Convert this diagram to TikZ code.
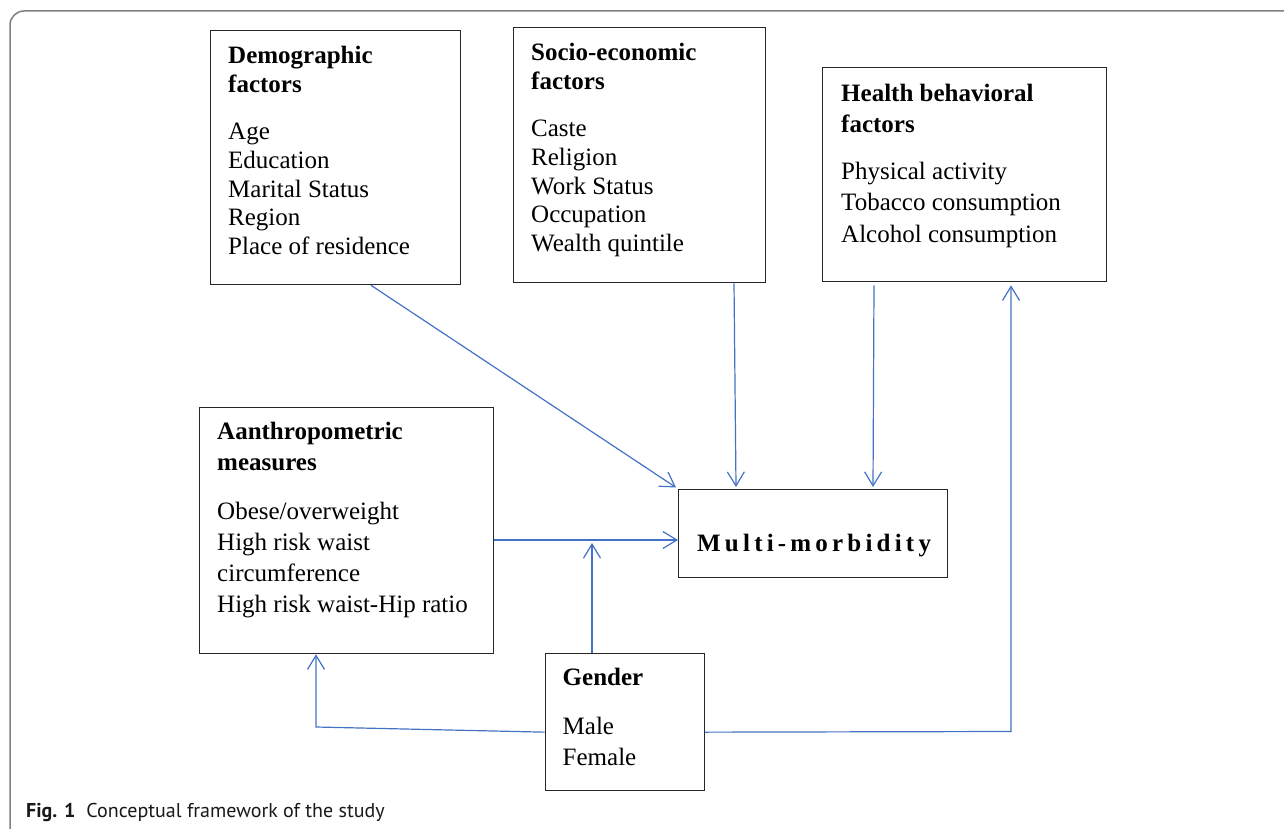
\documentclass[tikz,border=0pt]{standalone}
\usepackage{fontspec}
\setmainfont{Liberation Serif}
\newfontfamily\capfont{PT Sans}
\usetikzlibrary{arrows.meta,calc}
\definecolor{arrowblue}{HTML}{4472C4}
\definecolor{framegray}{HTML}{808080}
\newcommand{\lsp}{\kern4.2pt}
\begin{document}
\begin{tikzpicture}[x=1pt,y=-1pt,
  box/.style={draw=black!85, line width=1.3pt, inner sep=0pt, anchor=north west},
  txt/.style={anchor=base west, inner sep=0pt, font=\fontsize{25}{29}\selectfont},
  head/.style={anchor=base west, inner sep=0pt, font=\fontsize{25}{29}\selectfont\bfseries},
  link/.style={draw=arrowblue, line width=1.2pt, -{Straight Barb[length=14pt,width=17pt,line width=1.2pt]}},
  plainlink/.style={draw=arrowblue, line width=1.2pt}]
\useasboundingbox (0,0) rectangle (1284,829);
\fill[white] (0,0) rectangle (1284,829);
\draw[framegray, line width=1.5pt, rounded corners=14pt] (10,840) -- (10,11) -- (1300,11);

% boxes
\node[box, minimum width=250pt, minimum height=254pt] (demo) at (210,30) {};
\node[box, minimum width=252pt, minimum height=255pt] (socio) at (513,27) {};
\node[box, minimum width=284pt, minimum height=214pt] (health) at (822,67) {};
\node[box, minimum width=294pt, minimum height=246pt] (anthro) at (199,407) {};
\node[box, minimum width=269pt, minimum height=88pt] (multi) at (678,489) {};
\node[box, minimum width=159pt, minimum height=137pt] (gender) at (544.5,652.5) {};

% demographic text
\node[head] (d1) at (228,63.5) {Demographic};
\node[head] (d2) at (228,92.5) {factors};
\node[txt] (d3) at (228,139.5) {Age};
\node[txt] (d4) at (228,168.25) {Education};
\node[txt] (d5) at (228,197) {Marital Status};
\node[txt] (d6) at (228,225.75) {Region};
\node[txt] (d7) at (228,254.5) {Place of residence};

% socio-economic text
\node[head] (s1) at (531,60.5) {Socio-economic};
\node[head] (s2) at (531,89.5) {factors};
\node[txt] (s3) at (531,136.5) {Caste};
\node[txt] (s4) at (531,165.25) {Religion};
\node[txt] (s5) at (531,194) {Work Status};
\node[txt] (s6) at (531,222.75) {Occupation};
\node[txt] (s7) at (531,251.5) {Wealth quintile};

% health text
\node[head] (h1) at (841,102) {Health behavioral};
\node[head] (h2) at (841,133) {factors};
\node[txt] (h3) at (841,180) {Physical activity};
\node[txt] (h4) at (841,211) {Tobacco consumption};
\node[txt] (h5) at (841,242) {Alcohol consumption};

% anthropometric text
\node[head] (a1) at (217,439) {Aanthropometric};
\node[head] (a2) at (217,470) {measures};
\node[txt] (a3) at (217,519.5) {Obese/overweight};
\node[txt] (a4) at (217,550.5) {High risk waist};
\node[txt] (a5) at (217,581.5) {circumference};
\node[txt] (a6) at (217,612.5) {High risk waist-Hip ratio};

% gender text
\node[head] (g1) at (562.5,685.5) {Gender};
\node[txt] (g2) at (562.5,734) {Male};
\node[txt] (g3) at (562.5,765) {Female};

% multi-morbidity text
\node[head] (mtext) at (697,551) {M\lsp u\lsp l\lsp t\lsp i\lsp -\lsp m\lsp o\lsp r\lsp b\lsp i\lsp d\lsp i\lsp t\lsp y};

% connectors
\coordinate (join) at (592,543);
\coordinate (lcorner) at (316,727);
\coordinate (rcorner) at (1011,731.5);
\draw[link] ($(demo.south west)+(161,0)$) -- ($(multi.north west)+(-2,-1.5)$);
\draw[link] ($(socio.south west)+(221,0)$) -- ($(multi.north west)+(58,-2)$);
\draw[link] ($(health.south west)+(52,3)$) -- ($(multi.north west)+(195,-2)$);
\draw[link] ($(anthro.north east)+(0,133)$) -- ($(multi.north west)+(0,51)$);
\draw[link] ($(gender.north west)+(47.5,0)$) -- (join);
\draw[link] ($(gender.west)+(0,10.5)$) -- (lcorner) -- ($(anthro.south west)+(117,0)$);
\draw[link] ($(gender.east)+(0,10.5)$) -- (rcorner) -- ($(health.south west)+(189,3)$);

% caption
\node[anchor=base west, inner sep=0pt, font=\capfont\fontsize{20}{23}\selectfont, text=black!90] (caption) at (26,817) {\textbf{Fig. 1}\hspace{11pt}Conceptual framework of the study};
\end{tikzpicture}
\end{document}
